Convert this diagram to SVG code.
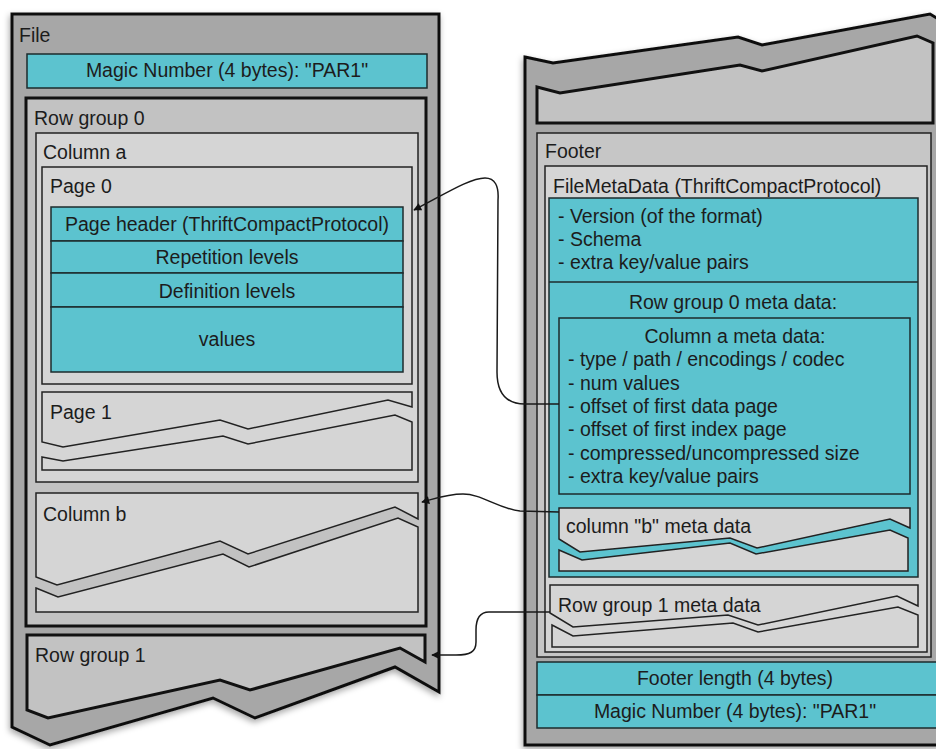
<svg xmlns="http://www.w3.org/2000/svg" width="936" height="749" viewBox="0 0 936 749">
  <style>
    text { font-family: "Liberation Sans", Arial, Helvetica, sans-serif; font-size: 19.5px; fill: #1c1c1c; }
    .mid { text-anchor: middle; }
    .shell { fill: #a7a7a7; stroke: #111; stroke-width: 3; stroke-linejoin: miter; }
    .group { fill: #c2c2c2; stroke: #111; stroke-width: 3; }
    .box { fill: #d5d5d5; stroke: #222; stroke-width: 1.5; }
    .boxmid { fill: #c6c6c6; stroke: #222; stroke-width: 1.5; }
    .cyan { fill: #5cc3cf; stroke: #1d2b2d; stroke-width: 1.5; }
    .wire { fill: none; stroke: #1a1a1a; stroke-width: 1.5; }
  </style>
  <defs>
    <filter id="shadow" x="-10%" y="-10%" width="120%" height="120%">
      <feDropShadow dx="-1" dy="3" stdDeviation="3" flood-color="#000" flood-opacity="0.35"/>
    </filter>
    <marker id="arrow" viewBox="0 0 10 10" refX="9" refY="5" markerWidth="10" markerHeight="8" markerUnits="userSpaceOnUse" orient="auto">
      <path d="M0 0 L10 5 L0 10 Z" fill="#111"/>
    </marker>
  </defs>

  <rect width="936" height="749" fill="#fff"/>

  <!-- Left file: data pages -->
  <g id="file">
    <polygon class="shell" filter="url(#shadow)" points="12,14 439,14 439,692 395,667 255,718 213,698 50,745 12,727"/>
    <text x="19" y="42">File</text>
  </g>

  <g id="magic-head">
    <rect class="cyan" x="27" y="54" width="400" height="34"/>
    <text class="mid" x="227" y="77">Magic Number (4 bytes): "PAR1"</text>
  </g>

  <g id="row-group-0">
    <rect class="group" x="26" y="98" width="400" height="528"/>
    <text x="34" y="125">Row group 0</text>
  </g>

  <g id="column-a">
    <rect class="box" x="36" y="133" width="382" height="349"/>
    <text x="43" y="159">Column a</text>
  </g>

  <g id="page-0">
    <rect class="box" x="42" y="167" width="370" height="217"/>
    <text x="50" y="193">Page 0</text>
    <rect class="cyan" x="51" y="207" width="352" height="34"/>
    <rect class="cyan" x="51" y="241" width="352" height="32"/>
    <rect class="cyan" x="51" y="273" width="352" height="34"/>
    <rect class="cyan" x="51" y="307" width="352" height="65"/>
    <text class="mid" x="227" y="231">Page header (ThriftCompactProtocol)</text>
    <text class="mid" x="227" y="264">Repetition levels</text>
    <text class="mid" x="227" y="298">Definition levels</text>
    <text class="mid" x="227" y="346">values</text>
  </g>

  <g id="page-1">
    <polygon class="box" points="42,392 412,392 412,407 388,400 248,429 220,420 63,447 42,442"/>
    <polygon class="box" points="42,457 63,461 223,436 248,444 395,415 412,422 412,470 42,470"/>
    <text x="50" y="419">Page 1</text>
  </g>

  <g id="column-b">
    <polygon class="box" points="36,493 418,493 418,519 395,507 248,554 220,541 57,585 36,577"/>
    <polygon class="box" points="36,588 58,597 223,554 249,567 398,518 418,527 418,612 36,612"/>
    <text x="43" y="521">Column b</text>
  </g>

  <g id="row-group-1">
    <polygon class="group" points="27,635 425,635 425,662 400,648 250,690 220,680 48,718 27,710"/>
    <text x="35" y="662">Row group 1</text>
  </g>

  <!-- Right file: footer -->
  <g id="file-tail">
    <polygon class="shell" filter="url(#shadow)" points="525,57 553,63 738,37 762,45 930,14 940,20 940,745 525,745"/>
  </g>

  <g id="row-group-n">
    <polygon class="group" points="537,87 560,93 740,65 762,71 917,36 933,43 933,123 537,123"/>
  </g>

  <g id="footer">
    <rect class="boxmid" x="537" y="133" width="394" height="524"/>
    <text x="545" y="158">Footer</text>
  </g>

  <g id="file-metadata">
    <rect class="box" x="545" y="166" width="382" height="486"/>
    <text x="553" y="193">FileMetaData (ThriftCompactProtocol)</text>
    <rect class="cyan" x="549" y="198" width="369" height="379"/>
    <line x1="549" y1="282" x2="918" y2="282" stroke="#1d2b2d" stroke-width="1.5"/>
    <text x="558" y="223">- Version (of the format)</text>
    <text x="558" y="246">- Schema</text>
    <text x="558" y="269">- extra key/value pairs</text>
    <text class="mid" x="733" y="309">Row group 0 meta data:</text>
  </g>

  <g id="column-a-meta">
    <rect class="cyan" x="559" y="318" width="351" height="176"/>
    <text class="mid" x="735" y="343">Column a meta data:</text>
    <text x="568" y="366">- type / path / encodings /  codec</text>
    <text x="568" y="390">- num values</text>
    <text x="568" y="413">- offset of first data page</text>
    <text x="568" y="436">- offset of first index page</text>
    <text x="568" y="460">- compressed/uncompressed size</text>
    <text x="568" y="483">- extra key/value pairs</text>
  </g>

  <g id="column-b-meta">
    <polygon class="box" points="559,508 910,508 910,528 890,519 757,548 730,538 580,552 559,539"/>
    <polygon class="box" points="559,550 582,560 730,543 756,554 890,530 908,538 908,571 559,571"/>
    <text x="566" y="533">column "b" meta data</text>
  </g>

  <g id="row-group-1-meta">
    <polygon class="box" points="550,585 918,585 918,606 897,596 758,625 728,615 573,627 550,613"/>
    <polygon class="box" points="552,625 573,636 733,623 758,632 898,607 918,615 918,647 552,647"/>
    <text x="558" y="612">Row group 1 meta data</text>
  </g>

  <g id="footer-length">
    <rect class="cyan" x="537" y="662" width="405" height="33"/>
    <text class="mid" x="735" y="685">Footer length (4 bytes)</text>
  </g>

  <g id="magic-tail">
    <rect class="cyan" x="537" y="695" width="405" height="33"/>
    <text class="mid" x="735" y="718">Magic Number (4 bytes): "PAR1"</text>
  </g>

  <!-- Offsets pointing back into the data -->
  <g id="connectors">
    <path class="wire" marker-end="url(#arrow)" d="M559 404 L525 404 C506 404 497 393 497 372 L498 200 C499 186 495 178 485 178 C470 178 445 194 414 210"/>
    <path class="wire" marker-end="url(#arrow)" d="M559 512 L520 511 C496 508 482 494 463 494 C448 494 437 498 422 502"/>
    <path class="wire" marker-end="url(#arrow)" d="M550 612 L489 612 C479 612 476 620 476 630 L476 642 C476 652 470 655 456 655 L432 655"/>
  </g>
</svg>
